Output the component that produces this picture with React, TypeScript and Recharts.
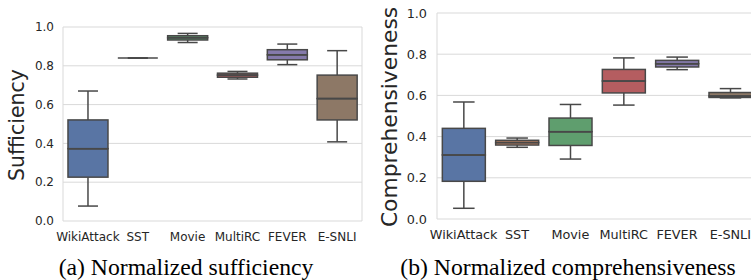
import React from 'react';
import { ComposedChart, Bar, XAxis, YAxis, CartesianGrid } from 'recharts';

const categories = ['WikiAttack', 'SST', 'Movie', 'MultiRC', 'FEVER', 'E-SNLI'];
const boxColors = ['#5975a4', '#cc8963', '#5f9e6e', '#b55d60', '#857aab', '#8d7866'];
const yTicks = [0, 0.2, 0.4, 0.6, 0.8, 1.0];

// (a) Normalized sufficiency
const suffMin = [0.077, 0.840, 0.920, 0.732, 0.806, 0.408];
const suffQ1 = [0.226, 0.840, 0.933, 0.741, 0.831, 0.521];
const suffMed = [0.373, 0.840, 0.945, 0.752, 0.857, 0.631];
const suffQ3 = [0.521, 0.840, 0.955, 0.762, 0.883, 0.752];
const suffMax = [0.670, 0.840, 0.967, 0.771, 0.912, 0.878];

// (b) Normalized comprehensiveness
const compMin = [0.052, 0.348, 0.291, 0.553, 0.725, 0.588];
const compQ1 = [0.183, 0.359, 0.357, 0.612, 0.738, 0.590];
const compMed = [0.311, 0.371, 0.424, 0.670, 0.754, 0.597];
const compQ3 = [0.440, 0.382, 0.490, 0.726, 0.770, 0.614];
const compMax = [0.568, 0.393, 0.556, 0.782, 0.786, 0.633];

const LINE = '#484848';
const GRID = '#d9d9d9';
const TEXT = '#262626';

function buildRows(mn: number[], q1: number[], md: number[], q3: number[], mx: number[]) {
  return categories.map((name, i) => ({
    name,
    color: boxColors[i],
    base: mn[i],
    lowW: q1[i] - mn[i],
    lowBox: md[i] - q1[i],
    highBox: q3[i] - md[i],
    highW: mx[i] - q3[i],
  }));
}

const suffRows = buildRows(suffMin, suffQ1, suffMed, suffQ3, suffMax);
const compRows = buildRows(compMin, compQ1, compMed, compQ3, compMax);

const EmptyShape = () => <g />;

const LowWhisker = (p: any) => {
  const cx = p.x + p.width / 2;
  const bottom = p.y + p.height;
  return (
    <g>
      <line x1={cx} x2={cx} y1={p.y} y2={bottom} stroke={LINE} strokeWidth={1.5} />
      <line x1={cx - p.width / 4} x2={cx + p.width / 4} y1={bottom} y2={bottom} stroke={LINE} strokeWidth={1.5} />
    </g>
  );
};

const HighWhisker = (p: any) => {
  const cx = p.x + p.width / 2;
  const bottom = p.y + p.height;
  return (
    <g>
      <line x1={cx} x2={cx} y1={p.y} y2={bottom} stroke={LINE} strokeWidth={1.5} />
      <line x1={cx - p.width / 4} x2={cx + p.width / 4} y1={p.y} y2={p.y} stroke={LINE} strokeWidth={1.5} />
    </g>
  );
};

const BoxPart = (p: any) => (
  <rect x={p.x} y={p.y} width={p.width} height={Math.max(0, p.height)} fill={p.payload.color} stroke={LINE} strokeWidth={1.5} />
);

const HighBoxPart = (p: any) => {
  const bottom = p.y + p.height;
  return (
    <g>
      <rect x={p.x} y={p.y} width={p.width} height={Math.max(0, p.height)} fill={p.payload.color} stroke={LINE} strokeWidth={1.5} />
      <line x1={p.x} x2={p.x + p.width} y1={bottom} y2={bottom} stroke={LINE} strokeWidth={1.5} />
    </g>
  );
};

const frameGen = (props: any) => {
  const o = props.offset;
  return [o.left, o.left + o.width];
};

function BoxChart(props: {
  rows: any[];
  width: number;
  margin: any;
  yWidth: number;
  fontSize: number;
  yMargin: number;
  xMargin: number;
}) {
  const { rows, width, margin, yWidth, fontSize, yMargin, xMargin } = props;
  const tickStyle = { fontFamily: 'DejaVu Sans', fontSize, fill: TEXT };
  return (
    <ComposedChart width={width} height={280} data={rows} margin={margin} barCategoryGap="10%">
      <CartesianGrid stroke={GRID} strokeWidth={1} verticalCoordinatesGenerator={frameGen} />
      <XAxis
        dataKey="name"
        type="category"
        interval={0}
        tickLine={false}
        axisLine={false}
        tickSize={0}
        tickMargin={xMargin}
        height={30}
        tick={tickStyle}
      />
      <YAxis
        type="number"
        domain={[0, 1]}
        ticks={yTicks}
        tickFormatter={(v: number) => v.toFixed(1)}
        tickLine={false}
        axisLine={false}
        tickSize={0}
        tickMargin={yMargin}
        width={yWidth}
        tick={tickStyle}
      />
      <Bar dataKey="base" stackId="b" shape={EmptyShape} isAnimationActive={false} />
      <Bar dataKey="lowW" stackId="b" shape={LowWhisker} isAnimationActive={false} />
      <Bar dataKey="lowBox" stackId="b" shape={BoxPart} isAnimationActive={false} />
      <Bar dataKey="highBox" stackId="b" shape={HighBoxPart} isAnimationActive={false} />
      <Bar dataKey="highW" stackId="b" shape={HighWhisker} isAnimationActive={false} />
    </ComposedChart>
  );
}

export default function App() {
  return (
    <div style={{ position: 'fixed', left: 0, top: 0, width: 751, height: 280, overflow: 'hidden', background: '#fff' }}>
      <div style={{ position: 'absolute', left: 0, top: 0 }}>
        <BoxChart
          rows={suffRows}
          width={375}
          margin={{ top: 27, right: 13, bottom: 29, left: 0 }}
          yWidth={63}
          fontSize={12}
          yMargin={9}
          xMargin={11}
        />
      </div>
      <div style={{ position: 'absolute', left: 375, top: 0 }}>
        <BoxChart
          rows={compRows}
          width={390}
          margin={{ top: 13, right: 8, bottom: 31, left: 0 }}
          yWidth={62}
          fontSize={12.8}
          yMargin={10}
          xMargin={11}
        />
      </div>
      <svg width={751} height={280} style={{ position: 'absolute', left: 0, top: 0, pointerEvents: 'none' }}>
        <text transform="translate(24,125) rotate(-90)" textAnchor="middle" fontFamily="DejaVu Sans" fontSize={20.5} fill={TEXT}>
          Sufficiency
        </text>
        <text transform="translate(396.5,117) rotate(-90)" textAnchor="middle" fontFamily="DejaVu Sans" fontSize={21.8} fill={TEXT}>
          Comprehensiveness
        </text>
        <text x={186} y={275} textAnchor="middle" fontFamily="Liberation Serif" fontSize={23.7} fill="#000">
          (a) Normalized sufficiency
        </text>
        <text x={568} y={274.5} textAnchor="middle" fontFamily="Liberation Serif" fontSize={23.7} fill="#000">
          (b) Normalized comprehensiveness
        </text>
      </svg>
    </div>
  );
}
